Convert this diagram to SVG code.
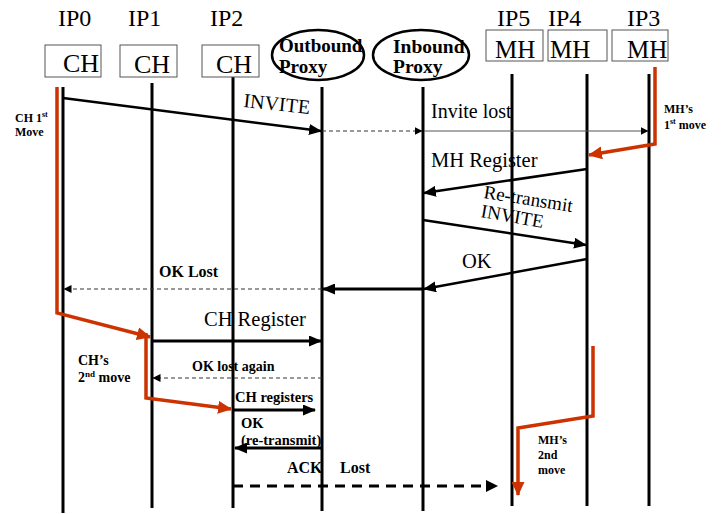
<svg xmlns="http://www.w3.org/2000/svg" width="722" height="514" viewBox="0 0 722 514">
<style>
.serif{font-family:"Liberation Serif","Times New Roman",serif;fill:#000}
.b{font-weight:bold}
.box{fill:#fff;stroke:#555;stroke-width:1}
.ell{fill:#fff;stroke:#000;stroke-width:2.5}
.life{stroke:#000;stroke-width:3;fill:none}
.msg{stroke:#000;stroke-width:2.5;fill:none}
.thick{stroke:#000;stroke-width:3;fill:none}
.thin{stroke:#555;stroke-width:1;fill:none}
.dash{stroke:#333;stroke-width:1;stroke-dasharray:4 3;fill:none}
.bigdash{stroke:#000;stroke-width:3;stroke-dasharray:10 7;fill:none}
.red{stroke:#cc3300;stroke-width:3.5;fill:none;stroke-linejoin:miter}
</style>
<defs>
<marker id="ah" markerUnits="userSpaceOnUse" markerWidth="13" markerHeight="11" refX="12" refY="5.5" orient="auto"><path d="M0,0 L13,5.5 L0,11 z" fill="#000"/></marker>
<marker id="ahs" markerUnits="userSpaceOnUse" markerWidth="8" markerHeight="8" refX="7.5" refY="4" orient="auto"><path d="M0,0 L8,4 L0,8 z" fill="#000"/></marker>
<marker id="ahr" markerUnits="userSpaceOnUse" markerWidth="14" markerHeight="13" refX="13" refY="6.5" orient="auto"><path d="M0,0 L14,6.5 L0,13 z" fill="#cc3300"/></marker>
</defs>

<g id="ip-labels" class="serif" font-size="24">
<text x="58" y="26">IP0</text>
<text x="128" y="26">IP1</text>
<text x="210" y="26">IP2</text>
<text x="497" y="26">IP5</text>
<text x="548" y="26">IP4</text>
<text x="627" y="26">IP3</text>
</g>

<g id="lifelines">
<line class="life" x1="63" y1="87" x2="63" y2="513"/>
<line class="life" x1="152" y1="83" x2="152" y2="508"/>
<line class="life" x1="233" y1="77" x2="233" y2="508"/>
<line class="life" x1="322" y1="87" x2="322" y2="511"/>
<line class="life" x1="423" y1="87" x2="423" y2="511"/>
<line class="life" x1="512" y1="74" x2="512" y2="506"/>
<line class="life" x1="587" y1="74" x2="587" y2="506"/>
<line class="life" x1="649" y1="74" x2="649" y2="506"/>
</g>

<g id="ch-ip0"><rect class="box" x="45" y="45" width="56" height="32"/><text class="serif" x="63" y="72" font-size="26">CH</text></g>
<g id="ch-ip1"><rect class="box" x="120" y="45" width="57" height="32"/><text class="serif" x="134" y="73" font-size="26">CH</text></g>
<g id="ch-ip2"><rect class="box" x="202" y="45" width="57" height="32"/><text class="serif" x="216" y="73" font-size="26">CH</text></g>
<g id="outbound-proxy"><ellipse class="ell" cx="318" cy="55" rx="46" ry="25"/><text class="serif b" x="279" y="52" font-size="19">Outbound</text><text class="serif b" x="279" y="73" font-size="19">Proxy</text></g>
<g id="inbound-proxy"><ellipse class="ell" cx="421" cy="55" rx="48" ry="25"/><text class="serif b" x="393" y="53" font-size="19.5">Inbound</text><text class="serif b" x="393" y="73" font-size="19.5">Proxy</text></g>
<g id="mh-ip5"><rect class="box" x="486" y="30" width="57" height="31"/><text class="serif" x="495" y="58" font-size="25">MH</text></g>
<g id="mh-ip4"><rect class="box" x="548" y="30" width="59" height="31"/><text class="serif" x="550" y="58" font-size="25">MH</text></g>
<g id="mh-ip3"><rect class="box" x="612" y="30" width="56" height="31"/><text class="serif" x="627" y="58" font-size="25">MH</text></g>

<g id="connectors">
<path class="red" d="M57,87 V313 L150,337" marker-end="url(#ahr)"/>
<path class="red" d="M146,333 V398 L231,409" marker-end="url(#ahr)"/>
<path class="red" d="M655,67 V144 L589,155" marker-end="url(#ahr)"/>
<path class="red" d="M593,346 V416 L518,428 V495" marker-end="url(#ahr)"/>

<line class="msg" x1="63" y1="98" x2="321" y2="131" marker-end="url(#ah)"/>
<line class="dash" x1="322" y1="131" x2="422" y2="131" marker-end="url(#ahs)"/>
<line class="thin" x1="424" y1="131" x2="648" y2="131" marker-end="url(#ahs)"/>
<line class="msg" x1="587" y1="169" x2="424" y2="193" marker-end="url(#ah)"/>
<line class="msg" x1="423" y1="220" x2="586" y2="245" marker-end="url(#ah)"/>
<line class="msg" x1="587" y1="259" x2="424" y2="289" marker-end="url(#ah)"/>
<line class="thick" x1="423" y1="289" x2="323" y2="289" marker-end="url(#ah)"/>
<line class="dash" x1="322" y1="289" x2="64" y2="289" marker-end="url(#ahs)"/>
<line class="thick" x1="152" y1="341" x2="321" y2="341" marker-end="url(#ah)"/>
<line class="dash" x1="322" y1="378" x2="153" y2="378" marker-end="url(#ahs)"/>
<line class="thick" x1="233" y1="410" x2="315" y2="410" marker-end="url(#ah)"/>
<line class="thick" x1="322" y1="448" x2="235" y2="448" marker-end="url(#ah)"/>
<line class="bigdash" x1="233" y1="486" x2="490" y2="486"/>
<path d="M486,480 L498,486 L486,492 z" fill="#000"/>
</g>

<g id="labels" class="serif">
<text x="243" y="107" font-size="20" transform="rotate(6 243 107)">INVITE</text>
<text x="431" y="118" font-size="20">Invite lost</text>
<text x="431" y="167" font-size="20.5">MH Register</text>
<text x="483" y="198" font-size="19" transform="rotate(9 483 198)">Re-transmit</text>
<text x="480" y="217" font-size="19" transform="rotate(10 480 217)">INVITE</text>
<text x="462" y="268" font-size="20.5">OK</text>
<text x="204" y="326" font-size="20.5">CH Register</text>
<text class="b" x="159" y="277" font-size="16">OK Lost</text>
<text class="b" x="192" y="371" font-size="14">OK lost again</text>
<text class="b" x="235" y="402" font-size="14.5">CH registers</text>
<text class="b" x="241" y="428" font-size="14.5">OK</text>
<text class="b" x="241" y="445" font-size="14.5">(re-transmit)</text>
<text class="b" x="287" y="473" font-size="16">ACK</text>
<text class="b" x="340" y="473" font-size="16">Lost</text>
<text class="b" x="15" y="122" font-size="12">CH 1<tspan font-size="8" dy="-5">st</tspan></text>
<text class="b" x="15" y="136" font-size="12">Move</text>
<text class="b" x="664" y="113" font-size="12">MH’s</text>
<text class="b" x="664" y="129" font-size="12">1<tspan font-size="8" dy="-5">st</tspan><tspan dy="5"> move</tspan></text>
<text class="b" x="78" y="365" font-size="14">CH’s</text>
<text class="b" x="78" y="382" font-size="14">2<tspan font-size="9" dy="-5">nd</tspan><tspan dy="5"> move</tspan></text>
<text class="b" x="538" y="444" font-size="12">MH’s</text>
<text class="b" x="538" y="459" font-size="12">2nd</text>
<text class="b" x="538" y="474" font-size="12">move</text>
</g>
</svg>
